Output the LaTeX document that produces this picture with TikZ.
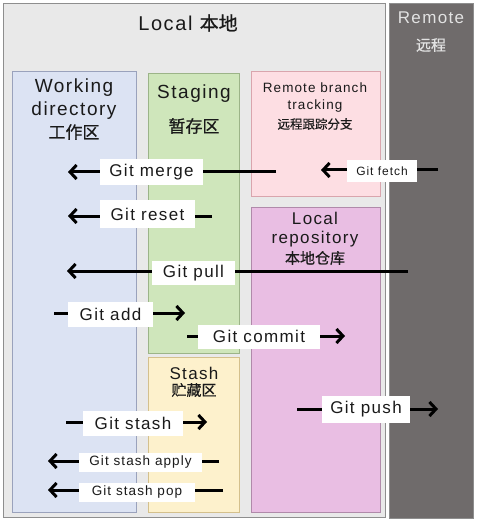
\documentclass[tikz,border=0pt]{standalone}
\usepackage{fontspec}
\setmainfont{Liberation Sans}[LetterSpace=8]
\newfontfamily\cjk{Noto Sans CJK SC}[FakeBold=0.6]
\usetikzlibrary{arrows.meta}
\definecolor{localbg}{HTML}{E9E9E9}
\definecolor{localbd}{HTML}{8E8E8E}
\definecolor{remotebg}{HTML}{6F6B6B}
\definecolor{remotetx}{HTML}{E2E2E2}
\definecolor{wdbg}{HTML}{DCE3F3}
\definecolor{wdbd}{HTML}{9AA2BC}
\definecolor{stbg}{HTML}{CFE6BB}
\definecolor{stbd}{HTML}{9CB488}
\definecolor{shbg}{HTML}{FDF1CC}
\definecolor{shbd}{HTML}{D4C08C}
\definecolor{rbbg}{HTML}{FDDEE3}
\definecolor{rbbd}{HTML}{D9A5AD}
\definecolor{lrbg}{HTML}{E9BEE3}
\definecolor{lrbd}{HTML}{B08AAA}
\definecolor{txt}{HTML}{1A1A1A}
\tikzset{
  area/.style={draw, line width=0.9pt, anchor=north west, inner sep=0pt, outer sep=0pt},
  title/.style={text=txt, inner sep=0pt, align=center},
  arr/.style={line width=3pt, -{Straight Barb[length=6.5pt,width=14pt]}},
  lbl/.style={fill=white, text=txt, inner sep=0pt, font=\fontsize{17}{20}\selectfont},
  slbl/.style={fill=white, text=txt, inner sep=0pt, font=\fontsize{13.5}{16}\selectfont},
}
\begin{document}
\begin{tikzpicture}[x=1pt,y=-1pt]
\useasboundingbox (0,0) rectangle (476,521);
\fill[white] (0,0) rectangle (476,521);
% areas
\node[area, draw=localbd, fill=localbg, minimum width=382pt, minimum height=514pt] (local) at (3,3) {};
\node[area, draw=localbd, fill=remotebg, minimum width=84pt, minimum height=515pt] (remote) at (389,3) {};
\node[area, draw=wdbd, fill=wdbg, minimum width=124pt, minimum height=441pt] (wd) at (12,71) {};
\node[area, draw=stbd, fill=stbg, minimum width=91pt, minimum height=280pt] (stage) at (148,73) {};
\node[area, draw=shbd, fill=shbg, minimum width=91pt, minimum height=155pt] (stash) at (148,357) {};
\node[area, draw=rbbd, fill=rbbg, minimum width=129pt, minimum height=125pt] (rbt) at (251,71) {};
\node[area, draw=lrbd, fill=lrbg, minimum width=129pt, minimum height=305pt] (lrepo) at (251,207) {};
% titles
\node[title, font=\fontsize{20}{24}\selectfont] (tlocal) at (188,23) {Local {\cjk\fontsize{19}{24}\selectfont 本地}};
\node[title, text=remotetx, font=\fontsize{17}{20}\selectfont] (tremote) at (431,18) {Remote};
\node[title, text=remotetx, font=\fontsize{15}{18}\selectfont\cjk] (tremotec) at (431,45) {远程};
\node[title, font=\fontsize{19}{22.5}\selectfont] (twd) at (74,99) {Working\\directory};
\node[title, font=\fontsize{17}{20}\selectfont\cjk] (twdc) at (74,132) {工作区};
\node[title, font=\fontsize{19}{22}\selectfont] (tstage) at (194,94) {Staging};
\node[title, font=\fontsize{17}{20}\selectfont\cjk] (tstagec) at (194,126) {暂存区};
\node[title, font=\fontsize{13.5}{17}\selectfont] (trbt) at (315,98) {Remote branch\\tracking};
\node[title, font=\fontsize{12.5}{15}\selectfont\cjk] (trbtc) at (315,124) {远程跟踪分支};
\node[title, font=\fontsize{17}{19}\selectfont] (tlrepo) at (315,230) {Local\\repository};
\node[title, font=\fontsize{15}{18}\selectfont\cjk] (tlrepoc) at (315,258) {本地仓库};
\node[title, font=\fontsize{17}{20}\selectfont] (tstash) at (194,373) {Stash};
\node[title, font=\fontsize{15}{18}\selectfont\cjk] (tstashc) at (194,390) {贮藏区};
% arrow endpoints
\coordinate (mergeA) at (276,172); \coordinate (mergeB) at (68,172);
\coordinate (fetchA) at (438,170); \coordinate (fetchB) at (321,170);
\coordinate (resetA) at (212,216); \coordinate (resetB) at (68,216);
\coordinate (pullA) at (408,271);  \coordinate (pullB) at (67,271);
\coordinate (addA) at (54,313);    \coordinate (addB) at (185,313);
\coordinate (commitA) at (187,336); \coordinate (commitB) at (345,336);
\coordinate (stashA) at (66,422);  \coordinate (stashB) at (207,422);
\coordinate (pushA) at (297,409);  \coordinate (pushB) at (438,409);
\coordinate (applyA) at (219,461); \coordinate (applyB) at (48,461);
\coordinate (popA) at (223,490);   \coordinate (popB) at (48,490);
\draw[arr] (mergeA) -- (mergeB);
\draw[arr] (fetchA) -- (fetchB);
\draw[arr] (resetA) -- (resetB);
\draw[arr] (pullA) -- (pullB);
\draw[arr] (addA) -- (addB);
\draw[arr] (commitA) -- (commitB);
\draw[arr] (stashA) -- (stashB);
\draw[arr] (pushA) -- (pushB);
\draw[arr] (applyA) -- (applyB);
\draw[arr] (popA) -- (popB);
% labels
\node[lbl, minimum width=103pt, minimum height=26pt] (lmerge) at (151.5,172) {Git merge};
\node[slbl, font=\fontsize{12}{14}\selectfont, minimum width=70pt, minimum height=22pt] (lfetch) at (382,171) {Git fetch};
\node[lbl, minimum width=95pt, minimum height=28pt] (lreset) at (147.5,214) {Git reset};
\node[lbl, minimum width=83pt, minimum height=24pt] (lpull) at (193.5,273) {Git pull};
\node[lbl, minimum width=85pt, minimum height=25pt] (ladd) at (110.5,314.5) {Git add};
\node[lbl, minimum width=122pt, minimum height=24pt] (lcommit) at (259,336.5) {Git commit};
\node[lbl, minimum width=100pt, minimum height=25pt] (lstash) at (133,423.5) {Git stash};
\node[lbl, minimum width=88pt, minimum height=27pt] (lpush) at (366,409.5) {Git push};
\node[slbl, minimum width=123pt, minimum height=19pt] (lapply) at (140.5,462) {Git stash apply};
\node[slbl, minimum width=116pt, minimum height=19pt] (lpop) at (137,492.5) {Git stash pop};
\end{tikzpicture}
\end{document}
